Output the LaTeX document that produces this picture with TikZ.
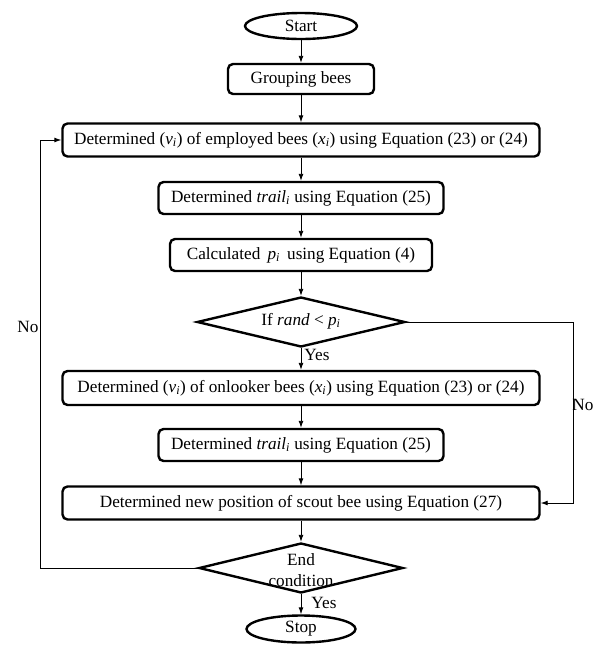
\documentclass[tikz,border=0pt]{standalone}
\usepackage{fontspec}
\setmainfont{Liberation Serif}
\usetikzlibrary{shapes.geometric,arrows.meta}
\newcommand\isub[1]{\textsubscript{\textit{#1}}}
\begin{document}
\begin{tikzpicture}[x=1pt,y=-1pt, font=\fontsize{17.2}{19}\selectfont,
 box/.style={draw, line width=2.4pt, rounded corners=5pt, inner sep=0pt},
 term/.style={draw, ellipse, line width=2.4pt, inner sep=0pt},
 dia/.style={draw, diamond, line width=2.4pt, inner sep=0pt},
 conn/.style={line width=0.9pt, -{Latex[length=7pt,width=5pt]}},
 lbl/.style={inner sep=0pt}]
\useasboundingbox (0,0) rectangle (602,646);
\node[term, minimum width=112, minimum height=26] (start) at (301,26) {Start};
\node[box, minimum width=146, minimum height=30] (group) at (301,79) {Grouping bees};
\node[box, minimum width=477, minimum height=33] (emp) at (301,140) {Determined (\textit{v}\isub{i}) of employed bees (\textit{x}\isub{i}) using Equation (23) or (24)};
\node[box, minimum width=285, minimum height=32] (trail1) at (301,198) {Determined \textit{trail}\isub{i} using Equation (25)};
\node[box, minimum width=262, minimum height=32] (calc) at (301,255) {Calculated\, \textit{p}\isub{i}\, using Equation (4)};
\node[dia, minimum width=208, minimum height=50] (d1) at (301,322) {};
\node[lbl] (d1t) at (301,321) {If \textit{rand} < \textit{p}\isub{i}};
\node[box, minimum width=477, minimum height=34] (onl) at (301,388) {Determined (\textit{v}\isub{i}) of onlooker bees (\textit{x}\isub{i}) using Equation (23) or (24)};
\node[box, minimum width=285, minimum height=32] (trail2) at (301,445) {Determined \textit{trail}\isub{i} using Equation (25)};
\node[box, minimum width=477, minimum height=33] (scout) at (301,503) {Determined new position of scout bee using Equation (27)};
\node[dia, minimum width=204, minimum height=50] (d2) at (301,568) {};
\node[lbl, align=center, font=\fontsize{17.2}{21}\selectfont] (d2t) at (301,570) {End\\condition};
\node[term, minimum width=109, minimum height=27] (stop) at (301,629) {Stop};
\node[lbl] (yes1) at (317,355) {Yes};
\node[lbl] (yes2) at (324,603) {Yes};
\node[lbl] (no1) at (28,327) {No};
\node[lbl] (no2) at (583,405) {No};
\coordinate (L) at (40,568);
\coordinate (R) at (573,322);
\draw[conn] (start) -- (group);
\draw[conn] (group) -- (emp);
\draw[conn] (emp) -- (trail1);
\draw[conn] (trail1) -- (calc);
\draw[conn] (calc) -- (d1);
\draw[conn] (d1) -- (onl);
\draw[conn] (onl) -- (trail2);
\draw[conn] (trail2) -- (scout);
\draw[conn] (scout) -- (d2);
\draw[conn] (d2) -- (stop);
\draw[conn] (d2.west) -- (L) |- (emp.west);
\draw[conn] (d1.east) -- (R) |- (scout.east);
\end{tikzpicture}
\end{document}
